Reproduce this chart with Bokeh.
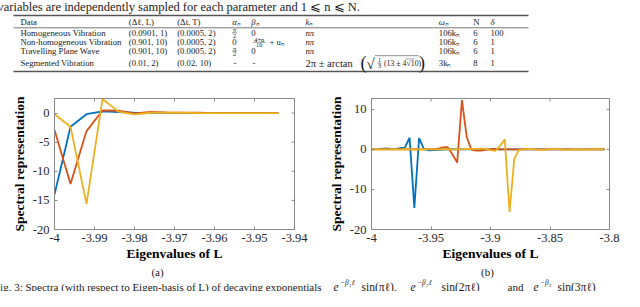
import math
from bokeh.plotting import figure
from bokeh.models import Range1d, FixedTicker, CustomJSTickFormatter
from bokeh.layouts import column, row
from bokeh.embed import file_html
from bokeh.resources import INLINE
from bokeh.core.properties import value

# ---------------- data ----------------
x_a = [-4.000, -3.996, -3.992, -3.988, -3.984, -3.980, -3.976, -3.972,
       -3.968, -3.964, -3.960, -3.956, -3.952, -3.948, -3.944]
a_blue = [-14.0, -2.35, -0.2, 0.3, 0.15, 0.05, 0.0, 0.02, 0.0, 0.0, 0.0, 0.0, 0.0, 0.0, 0.0]
a_orange = [-2.9, -12.2, -3.1, 0.45, 0.4, -0.05, 0.2, 0.1, 0.05, 0.05, 0.0, 0.0, 0.0, 0.0, 0.0]
a_yellow = [-0.2, -2.35, -15.6, 2.4, 0.25, -0.22, 0.05, 0.08, 0.05, 0.0, 0.0, 0.0, 0.0, 0.0, 0.0]

x_b = [-4.000, -3.996, -3.992, -3.988, -3.984, -3.980, -3.976, -3.972, -3.968, -3.964,
       -3.960, -3.956, -3.952, -3.948, -3.944, -3.940, -3.936, -3.932, -3.928, -3.924,
       -3.920, -3.916, -3.912, -3.908, -3.904, -3.900, -3.896, -3.892, -3.888, -3.884,
       -3.880, -3.876, -3.872, -3.868, -3.864, -3.860, -3.856, -3.852, -3.848, -3.844,
       -3.840, -3.836, -3.832, -3.828, -3.824, -3.820, -3.816, -3.812, -3.808, -3.804]
b_blue = [0.0, 0.05, 0.15, 0.25, 0.1, 0.05, 0.3, 0.45, 2.9, -14.6,
          2.8, 0.15, -0.25, -0.2, -0.1, -0.05, 0.0, 0.05, 0.0, 0.0,
          0.0, 0.0, 0.0, 0.0, 0.0, 0.0, 0.0, 0.0, 0.0, 0.0,
          0.0, 0.0, 0.0, 0.0, 0.0, 0.0, 0.0, 0.0, 0.0, 0.0,
          0.0, 0.0, 0.0, 0.0, 0.0, 0.0, 0.0, 0.0, 0.0, 0.0]
b_orange = [0.0, 0.0, 0.0, 0.05, 0.0, 0.0, 0.05, 0.0, 0.0, 0.05,
            0.0, 0.0, 0.05, 0.1, 0.2, 0.5, 0.55, -1.2, -3.3, 12.3,
            3.1, -0.1, -0.3, -0.3, -0.1, 0.05, 0.1, 0.0, 0.0, 0.0,
            0.0, 0.0, 0.05, 0.0, 0.0, 0.0, 0.0, 0.0, 0.0, 0.0,
            0.0, 0.0, 0.0, 0.0, 0.0, 0.0, 0.0, 0.0, 0.0, 0.0]
b_yellow = [0.0, 0.05, 0.0, 0.05, 0.0, 0.0, 0.0, 0.05, 0.0, 0.0,
            0.0, 0.05, 0.0, 0.0, 0.0, 0.05, 0.0, 0.0, 0.05, 0.0,
            0.1, 0.1, 0.15, 0.2, 0.1, -0.2, -0.4, 0.9, 2.5, -15.6,
            -2.3, -0.1, 0.0, 0.1, 0.05, -0.1, -0.15, 0.0, 0.1, 0.05,
            0.0, -0.1, 0.0, 0.05, 0.0, -0.05, 0.0, 0.05, 0.0, 0.0]

a_xticks = [-4, -3.99, -3.98, -3.97, -3.96, -3.95, -3.94]
a_yticks = [-20, -15, -10, -5, 0]
b_xticks = [-4, -3.95, -3.9, -3.85, -3.8]
b_yticks = [-20, -10, 0, 10]

table_header = ["Data", "(Δℓ, L)", "(Δt, T)", "αₙ", "βₙ", "kₙ", "ωₙ", "N", "δ"]
table_names = ["Homogeneous Vibration", "Non-homogeneous Vibration",
               "Travelling Plane Wave", "Segmented Vibration"]
table_dl = ["(0.0901, 1)", "(0.901, 10)", "(0.901, 10)", "(0.01, 2)"]
table_dt = ["(0.0005, 2)", "(0.0005, 2)", "(0.0005, 2)", "(0.02, 10)"]
table_omega = ["106kₙ", "106kₙ", "106kₙ", "3kₙ"]
table_N = ["6", "6", "6", "8"]
table_delta = ["100", "1", "1", "1"]

top_line = "variables are independently sampled for each parameter and 1 ⩽ n ⩽ N."
caption_text = ("Fig. 3: Spectra (with respect to Eigen-basis of L) of decaying exponentials")
caption_math = [("e", 333, 0), ("−β₁ℓ", 339.5, 1), ("sin(πℓ),", 361, 0),
                ("e", 410, 0), ("−β₂ℓ", 416.5, 1), ("sin(2πℓ)", 441, 0),
                ("and", 507, 2), ("e", 533, 0), ("−β₃", 539.5, 1), ("sin(3πℓ)", 557, 0)]

# ---------------- layout constants ----------------
SERIF = "Liberation Serif"
W = 624
TOP_H = 86
ROW_H = 178
BOT_H = 291 - TOP_H - ROW_H
BLUE, ORANGE, YELLOW = "#0072BD", "#D95319", "#EDB120"
AX = "#8a8a8a"
TXT = "#1a1a1a"


def text_figure(h):
    p = figure(width=W, height=h, x_range=Range1d(0, W), y_range=Range1d(h, 0),
               x_axis_type=None, y_axis_type=None, output_backend="svg",
               toolbar_location=None, min_border=0)
    p.outline_line_color = None
    p.background_fill_color = "white"
    p.border_fill_color = "white"
    return p


def put(p, x, y, s, size, style="normal", align="left", baseline="middle", color=TXT, font=SERIF):
    p.text(x=[x], y=[y], text=[s], text_font=value(font), text_font_size=f"{size}px",
           text_font_style=style, text_align=align, text_baseline=baseline, text_color=color)


def hline(p, x0, x1, y, w, color="#555555"):
    p.segment(x0=[x0], y0=[y], x1=[x1], y1=[y], line_width=w, line_color=color)


# ---------------- top: text + table ----------------
top = text_figure(TOP_H)
put(top, -3, 6, top_line, 12.5, baseline="alphabetic")

hline(top, 13, 528, 15, 1.3)
hline(top, 13, 528, 27.3, 0.8)
hline(top, 13, 528, 71, 1.3)

FS = 8.7
col_x = [20, 128.3, 176.7, 231.7, 250.7, 305, 438.3, 472.7, 490]
for cx, h in zip(col_x, table_header):
    st = "italic" if h in ("αₙ", "βₙ", "kₙ", "ωₙ", "δ") else "normal"
    put(top, cx, 21.7, h, FS, style=st)

rows_y = [32.3, 41.7, 50.7, 62.7]
for i, ry in enumerate(rows_y):
    put(top, 20, ry, table_names[i], FS)
    put(top, 128.3, ry, table_dl[i], FS)
    put(top, 176.7, ry, table_dt[i], FS)
    put(top, 438.3, ry, table_omega[i], FS)
    put(top, 472.7, ry, table_N[i], FS)
    put(top, 490, ry, table_delta[i], FS)
    if i < 3:
        put(top, 305, ry, "nπ", FS, style="italic")

# alpha column
for i in (0, 2):
    yy = rows_y[i]
    put(top, 234, yy - 2.9, "π", 6.3, align="center")
    hline(top, 231.5, 236.5, yy, 0.5, TXT)
    put(top, 234, yy + 3.2, "2", 6.3, align="center")
put(top, 231.7, rows_y[1], "0", FS)
put(top, 233, rows_y[3], "-", FS)
# beta column
put(top, 250.7, rows_y[0], "0", FS)
put(top, 250.7, rows_y[2], "0", FS)
put(top, 252, rows_y[3], "-", FS)
yy = rows_y[1]
put(top, 258.7, yy - 3.0, "4+n", 6.3, align="center")
hline(top, 252.5, 265, yy, 0.5, TXT)
put(top, 258.7, yy + 3.2, "10", 6.3, align="center")
put(top, 269, yy, "+ uₙ", FS)
# k column, segmented row
yy = rows_y[3]
put(top, 305, yy, "2π ± arctan", 10.5)
put(top, 360, yy, "(", 18)
put(top, 366, yy + 0.5, "√", 15)
hline(top, 374.5, 418, yy - 7.5, 0.5, TXT)
put(top, 379, yy - 2.9, "1", 6.3, align="center")
hline(top, 377, 381, yy, 0.5, TXT)
put(top, 379, yy + 3.2, "3", 6.3, align="center")
put(top, 383.5, yy, "(13 ± 4√10)", 7.8)
hline(top, 405.5, 414, yy - 4.3, 0.4, TXT)
put(top, 418.5, yy, ")", 18)


# ---------------- plots ----------------
fmt = CustomJSTickFormatter(code="return String(parseFloat(tick.toFixed(4)));")


def style_axis(ax, ticks, label_standoff):
    ax.ticker = FixedTicker(ticks=ticks, minor_ticks=[])
    ax.formatter = fmt
    ax.axis_line_color = AX
    ax.major_tick_line_color = AX
    ax.major_tick_in = 3
    ax.major_tick_out = 0
    ax.minor_tick_line_color = None
    ax.major_label_text_font = SERIF
    ax.major_label_text_font_size = "12.5px"
    ax.major_label_text_color = "#262626"
    ax.axis_label_text_font = SERIF
    ax.axis_label_text_font_style = "bold"
    ax.axis_label_text_font_size = "13.5px"
    ax.axis_label_text_color = "black"
    ax.axis_label_standoff = label_standoff


def plot_figure(xr, yr, xticks, yticks, left, right, xs, series):
    p = figure(width=312, height=ROW_H, x_range=Range1d(*xr), y_range=Range1d(*yr),
               output_backend="svg", toolbar_location=None,
               min_border_left=left, min_border_right=right,
               min_border_top=12, min_border_bottom=ROW_H - 12 - 131)
    p.grid.visible = False
    p.outline_line_color = AX
    p.background_fill_color = "white"
    p.border_fill_color = "white"
    p.xaxis.axis_label = "Eigenvalues of L"
    p.yaxis.axis_label = "Spectral representation"
    style_axis(p.xaxis[0], xticks, 1)
    p.xaxis[0].major_label_standoff = 4
    style_axis(p.yaxis[0], yticks, 3)
    p.yaxis[0].major_label_standoff = 5
    # mirrored inward ticks on the top and right edges of the box
    p.scatter(x=xticks, y=[yr[1]] * len(xticks), marker="dash", angle=math.pi / 2,
              size=6, line_color=AX, line_width=1)
    p.scatter(x=[xr[1]] * len(yticks), y=yticks, marker="dash",
              size=6, line_color=AX, line_width=1)
    for color, ys in zip((BLUE, ORANGE, YELLOW), series):
        p.line(xs, ys, line_color=color, line_width=1.8)
    return p


pa = plot_figure((-4, -3.94), (-20, 2.5), a_xticks, a_yticks, 54, 18,
                 x_a, (a_blue, a_orange, a_yellow))
pb = plot_figure((-4, -3.8), (-20, 12.7), b_xticks, b_yticks, 59, 15,
                 x_b, (b_blue, b_orange, b_yellow))

# ---------------- bottom: sub-captions + caption ----------------
bot = text_figure(BOT_H)
put(bot, 157, 7, "(a)", 11, align="center")
put(bot, 487, 7, "(b)", 11, align="center")
base = 22.5
put(bot, -6.5, base, caption_text, 11, baseline="alphabetic")
for s, x, kind in caption_math:
    if kind == 1:
        put(bot, x, base - 5, s, 7.5, style="italic", baseline="alphabetic")
    elif kind == 2:
        put(bot, x, base, s, 11, baseline="alphabetic")
    else:
        put(bot, x, base, s, 11.5, style="italic" if s == "e" else "normal", baseline="alphabetic")

layout = column(top, row(pa, pb), bot)
open("out.html", "w").write(file_html(layout, INLINE))
